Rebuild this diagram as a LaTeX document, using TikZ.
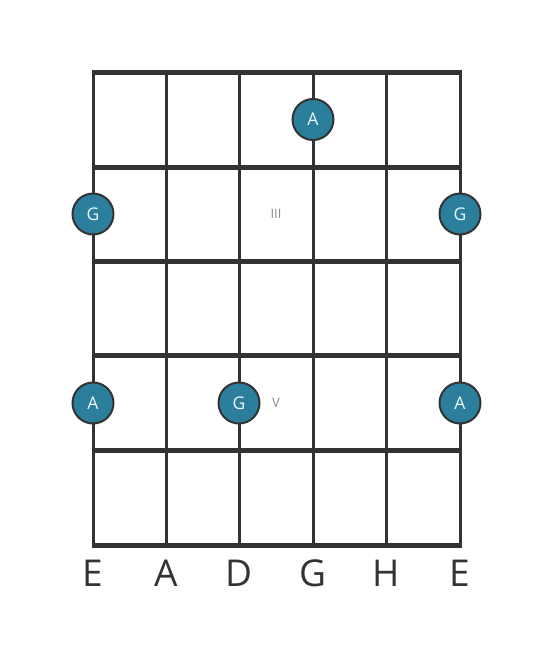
\documentclass[tikz,border=0pt]{standalone}
\usepackage{fontspec}
\setmainfont{Open Sans}
\definecolor{gridgray}{HTML}{333333}
\definecolor{noteteal}{HTML}{2B7F9D}
\definecolor{notetext}{HTML}{EEF7FA}
\definecolor{posgray}{HTML}{8A8A8A}
\tikzset{
    fret/.style={line width=5pt, color=gridgray},
    string/.style={line width=3pt, color=gridgray},
    note/.style={circle, draw=gridgray, line width=2pt, fill=noteteal, minimum size=41pt,
        inner sep=0pt, text=notetext, font=\fontsize{17.5}{17.5}\selectfont},
    position/.style={text=posgray, font=\fontsize{13}{13}\selectfont},
    stringname/.style={anchor=base, text=gridgray, font=\fontsize{37}{37}\selectfont}
}
\begin{document}
\begin{tikzpicture}[x=1pt,y=-1pt]
        \useasboundingbox (0,0) rectangle (553,656);
        % strings
        \draw[string] (93,72)  -- (93,545);
        \draw[string] (166,72) -- (166,545);
        \draw[string] (239,72) -- (239,545);
        \draw[string] (313,72) -- (313,545);
        \draw[string] (386,72) -- (386,545);
        \draw[string] (460,72) -- (460,545);
        % frets
        \draw[fret] (91.5,72)  -- (461.5,72);
        \draw[fret] (91.5,167) -- (461.5,167);
        \draw[fret] (91.5,261) -- (461.5,261);
        \draw[fret] (91.5,355) -- (461.5,355);
        \draw[fret] (91.5,450) -- (461.5,450);
        \draw[fret] (91.5,545) -- (461.5,545);
        % position marks
        \node[position] (posIII) at (276,214) {III};
        \node[position] (posV)   at (276,403) {V};
        % notes
        \node[note] (noteA1) at (313,119.5) {A};
        \node[note] (noteG1) at (93,214)    {G};
        \node[note] (noteG2) at (460,214)   {G};
        \node[note] (noteA2) at (93,403)    {A};
        \node[note] (noteG3) at (239,403)   {G};
        \node[note] (noteA3) at (460,403)   {A};
        % string names
        \node[stringname] (nameE1) at (93,586)  {E};
        \node[stringname] (nameA)  at (166,586) {A};
        \node[stringname] (nameD)  at (239,586) {D};
        \node[stringname] (nameG)  at (313,586) {G};
        \node[stringname] (nameH)  at (386,586) {H};
        \node[stringname] (nameE2) at (460,586) {E};
    \end{tikzpicture}
\end{document}
